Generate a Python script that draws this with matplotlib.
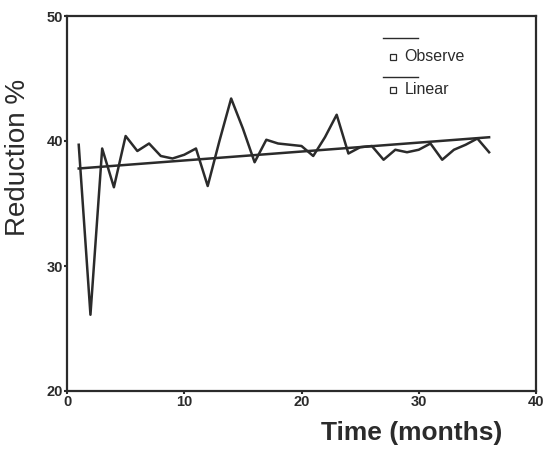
import matplotlib
matplotlib.use("Agg")
import matplotlib.pyplot as plt
import numpy as np

plt.rcParams['font.family'] = ['Liberation Sans', 'DejaVu Sans']

# observed reduction per month
months = list(range(1, 37))
observe = [39.7, 26.1, 39.4, 36.3, 40.4, 39.2, 39.8, 38.8, 38.6, 38.9,
           39.4, 36.4, 40.0, 43.4, 41.0, 38.3, 40.1, 39.8, 39.7, 39.6,
           38.8, 40.3, 42.1, 39.0, 39.5, 39.6, 38.5, 39.3, 39.1, 39.3,
           39.8, 38.5, 39.3, 39.7, 40.2, 39.1]
# linear trend endpoints (month 1 and 36)
linear_x = [1, 36]
linear_y = [37.8, 40.3]

xticks = [0, 10, 20, 30, 40]
yticks = [20, 30, 40, 50]

ink = '#2b2b2b'

fig = plt.figure(figsize=(5.46, 4.62), dpi=100)
ax = fig.add_axes([67/546, 71/462, 469/546, 375/462])

ax.plot(months, observe, '-', color=ink, linewidth=1.8, zorder=3)
ax.plot(linear_x, linear_y, '-', color=ink, linewidth=1.8, zorder=2)

ax.set_xlim(0, 40)
ax.set_ylim(20, 50)
ax.set_xticks(xticks)
ax.set_yticks(yticks)
ax.tick_params(direction='out', length=2, width=1.5, color=ink, labelsize=10.5,
               labelcolor=ink, pad=1)
for lab in ax.get_xticklabels() + ax.get_yticklabels():
    lab.set_fontweight('bold')
for sp in ax.spines.values():
    sp.set_linewidth(1.6)
    sp.set_color(ink)

# legend drawn by hand (line above, small square with text below)
leg_rows = [('Observe', 0.891, 0.941), ('Linear', 0.803, 0.837)]
for name, yy, ly in leg_rows:
    ax.plot([0.674, 0.748], [ly, ly], color=ink, linewidth=1.0,
            transform=ax.transAxes, clip_on=False)
    ax.plot([0.695], [yy], 's', markersize=3.8, markerfacecolor='white',
            markeredgecolor=ink, markeredgewidth=0.9, transform=ax.transAxes)
    ax.text(0.72, yy, name, transform=ax.transAxes, fontsize=11.5, color=ink,
            va='center', ha='left')

fig.text(18/546, 1 - 157/462, 'Reduction %', rotation=90, fontsize=20,
         color=ink, ha='center', va='center')
fig.text(412/546, 1 - 433/462, 'Time (months)', fontsize=19, fontweight='bold',
         color=ink, ha='center', va='center')

fig.savefig('out.png', dpi=100)
